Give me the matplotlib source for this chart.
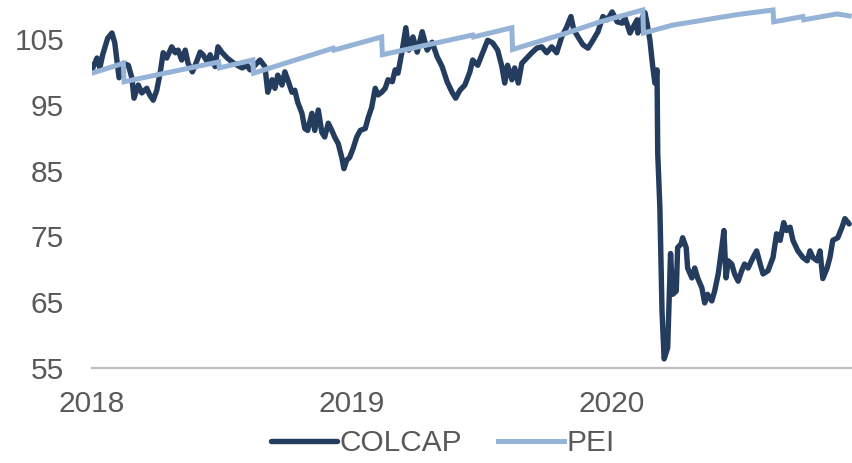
import numpy as np
import pandas as pd
import matplotlib
matplotlib.use("Agg")
from matplotlib import pyplot as plt

plt.rcParams['font.family'] = ['Liberation Sans', 'DejaVu Sans']

###################### data ################################################
colcap_dates = [
    "2018-01-01", "2018-01-08", "2018-01-12", "2018-01-16", "2018-01-23", "2018-01-29",
    "2018-02-02", "2018-02-05", "2018-02-08", "2018-02-14", "2018-02-21", "2018-02-26",
    "2018-03-01", "2018-03-07", "2018-03-12", "2018-03-19", "2018-03-23", "2018-03-28",
    "2018-04-02", "2018-04-07", "2018-04-11", "2018-04-16", "2018-04-23", "2018-04-28",
    "2018-05-02", "2018-05-07", "2018-05-12", "2018-05-16", "2018-05-22", "2018-05-26",
    "2018-06-02", "2018-06-06", "2018-06-12", "2018-06-16", "2018-06-23", "2018-06-27",
    "2018-07-03", "2018-07-10", "2018-07-17", "2018-07-24", "2018-07-31", "2018-08-07",
    "2018-08-11", "2018-08-18", "2018-08-25", "2018-09-01", "2018-09-05", "2018-09-11",
    "2018-09-15", "2018-09-19", "2018-09-25", "2018-09-29", "2018-10-03", "2018-10-09",
    "2018-10-13", "2018-10-17", "2018-10-23", "2018-10-27", "2018-10-31", "2018-11-06",
    "2018-11-10", "2018-11-15", "2018-11-20", "2018-11-24", "2018-11-29", "2018-12-04",
    "2018-12-08", "2018-12-13", "2018-12-18", "2018-12-21", "2018-12-25", "2018-12-29",
    "2019-01-03", "2019-01-08", "2019-01-13", "2019-01-20", "2019-01-24", "2019-01-29",
    "2019-02-03", "2019-02-07", "2019-02-12", "2019-02-17", "2019-02-21", "2019-02-27",
    "2019-03-03", "2019-03-07", "2019-03-13", "2019-03-18", "2019-03-22", "2019-03-28",
    "2019-04-03", "2019-04-10", "2019-04-17", "2019-04-24", "2019-05-01", "2019-05-08",
    "2019-05-15", "2019-05-22", "2019-05-27", "2019-06-02", "2019-06-09", "2019-06-16",
    "2019-06-20", "2019-06-27", "2019-07-04", "2019-07-11", "2019-07-18", "2019-07-25",
    "2019-07-31", "2019-08-04", "2019-08-08", "2019-08-14", "2019-08-18", "2019-08-23",
    "2019-08-28", "2019-09-04", "2019-09-11", "2019-09-18", "2019-09-25", "2019-10-02",
    "2019-10-09", "2019-10-16", "2019-10-23", "2019-10-30", "2019-11-05", "2019-11-09",
    "2019-11-15", "2019-11-22", "2019-11-29", "2019-12-06", "2019-12-13", "2019-12-20",
    "2019-12-26", "2020-01-02", "2020-01-09", "2020-01-16", "2020-01-20", "2020-01-27",
    "2020-01-31", "2020-02-06", "2020-02-07", "2020-02-13", "2020-02-17", "2020-02-20",
    "2020-02-24", "2020-02-28", "2020-03-02", "2020-03-05", "2020-03-06", "2020-03-09",
    "2020-03-12", "2020-03-15", "2020-03-17", "2020-03-20", "2020-03-24", "2020-03-27",
    "2020-04-01", "2020-04-03", "2020-04-08", "2020-04-10", "2020-04-15", "2020-04-17",
    "2020-04-23", "2020-04-27", "2020-05-01", "2020-05-07", "2020-05-11", "2020-05-15",
    "2020-05-21", "2020-05-25", "2020-05-30", "2020-06-04", "2020-06-07", "2020-06-10",
    "2020-06-13", "2020-06-18", "2020-06-22", "2020-06-27", "2020-07-02", "2020-07-06",
    "2020-07-11", "2020-07-18", "2020-07-23", "2020-07-28", "2020-08-01", "2020-08-08",
    "2020-08-15", "2020-08-20", "2020-08-25", "2020-08-30", "2020-09-03", "2020-09-08",
    "2020-09-12", "2020-09-19", "2020-09-26", "2020-10-02", "2020-10-06", "2020-10-10",
    "2020-10-16", "2020-10-20", "2020-10-24", "2020-10-30", "2020-11-03", "2020-11-07",
    "2020-11-14", "2020-11-20", "2020-11-24", "2020-11-30",
]
colcap_values = [
    100.3, 102.1, 100.6, 102.6, 105.1, 105.9,
    104.4, 101.8, 99.1, 101.3, 101.0, 99.1,
    96.0, 98.0, 96.8, 97.5, 96.5, 95.7,
    97.2, 100.0, 102.9, 102.1, 103.8, 102.9,
    103.3, 101.8, 103.3, 101.3, 100.0, 101.0,
    103.0, 102.6, 101.5, 102.6, 100.8, 103.8,
    102.9, 102.1, 101.5, 101.0, 100.6, 101.0,
    100.3, 101.0, 101.8, 100.8, 96.9, 98.8,
    97.5, 99.5, 98.0, 100.0, 98.8, 96.9,
    97.2, 95.4, 93.7, 91.4, 91.1, 93.7,
    91.1, 94.2, 90.8, 90.1, 92.2, 91.1,
    90.1, 89.1, 87.0, 85.3, 86.6, 87.0,
    88.4, 90.1, 91.1, 91.4, 93.0, 94.6,
    97.5, 96.5, 96.9, 97.5, 98.8, 98.5,
    100.3, 99.8, 103.3, 106.7, 103.3, 105.3,
    103.0, 106.1, 103.3, 104.5, 102.3, 100.8,
    98.5, 96.9, 96.0, 97.2, 98.0, 100.0,
    101.8, 101.0, 102.9, 104.8, 104.4, 103.3,
    100.8, 98.3, 101.0, 98.8, 100.6, 98.3,
    101.3, 102.1, 102.9, 103.6, 103.8, 102.9,
    103.8, 102.9, 105.3, 106.8, 108.4, 106.4,
    105.3, 104.1, 103.6, 104.8, 106.1, 108.4,
    107.9, 109.1, 107.6, 107.4, 108.2, 105.9,
    106.7, 107.9, 105.9, 108.2, 109.0, 107.4,
    104.8, 100.8, 98.3, 100.3, 87.6, 79.4,
    63.7, 56.4, 57.1, 58.1, 72.4, 66.2,
    66.7, 73.3, 73.9, 74.8, 73.3, 70.2,
    68.7, 70.2, 68.7, 67.2, 64.9, 66.2,
    65.2, 66.7, 69.3, 73.3, 75.9, 68.7,
    71.3, 70.8, 69.3, 68.2, 69.8, 70.8,
    70.2, 71.8, 72.8, 70.8, 69.3, 69.8,
    71.8, 75.4, 74.4, 77.1, 75.9, 76.4,
    74.4, 72.8, 71.8, 71.3, 72.8, 71.8,
    71.3, 72.8, 68.6, 70.2, 71.8, 74.4,
    74.8, 76.4, 77.7, 76.9,
]

pei_dates = [
    "2018-01-01", "2018-02-14", "2018-02-15", "2018-06-28", "2018-06-29", "2018-08-15",
    "2018-08-16", "2018-12-06", "2018-12-07", "2019-02-12", "2019-02-13", "2019-06-20",
    "2019-06-21", "2019-08-14", "2019-08-15", "2019-10-30", "2019-12-16", "2020-02-14",
    "2020-02-15", "2020-03-27", "2020-06-26", "2020-08-15", "2020-08-16", "2020-09-26",
    "2020-09-27", "2020-11-13", "2020-11-30",
]
pei_values = [
    99.8, 101.3, 98.5, 101.5, 100.6, 101.8,
    99.8, 103.6, 103.3, 105.3, 102.6, 105.6,
    105.3, 106.7, 103.4, 105.9, 107.6, 109.4,
    105.9, 107.1, 108.7, 109.4, 107.6, 108.4,
    107.9, 108.8, 108.5,
]

y_ticks = [55, 65, 75, 85, 95, 105]
x_tick_labels = ["2018", "2019", "2020"]

colcap = pd.Series(colcap_values, index=pd.to_datetime(colcap_dates))
pei = pd.Series(pei_values, index=pd.to_datetime(pei_dates))

######################### plot ########################
grey = '#595959'
fig = plt.figure(figsize=(8.52, 4.63), dpi=100)
ax = fig.add_axes([0.108, 0.205, 0.892, 0.782])

ax.plot(colcap.index, colcap.values, color='#243D5F', lw=3.9, label='COLCAP',
        solid_joinstyle='round', solid_capstyle='round')
ax.plot(pei.index, pei.values, color='#95B3D7', lw=3.6, label='PEI',
        solid_joinstyle='miter')

ax.set_ylim(55, 110)
ax.set_yticks(y_ticks)
ax.set_xlim(pd.Timestamp("2018-01-01"), pd.Timestamp("2020-12-04"))
ax.set_xticks([pd.Timestamp(lab + "-01-01") for lab in x_tick_labels])
ax.set_xticklabels(x_tick_labels)

for side in ['top', 'right', 'left']:
    ax.spines[side].set_visible(False)
ax.spines['bottom'].set_color('#BFBFBF')
ax.spines['bottom'].set_linewidth(1.6)
ax.tick_params(axis='y', length=0, pad=20, labelsize=21.5, labelcolor=grey)
ax.tick_params(axis='x', length=0, pad=16, labelsize=21.5, labelcolor=grey)

fig.legend(loc='lower center', bbox_to_anchor=(0.52, -0.045), ncol=2, frameon=False,
           fontsize=21.5, labelcolor=grey, handlelength=2.2, handletextpad=0.1,
           columnspacing=1.2)

fig.savefig("out.png", dpi=100)
